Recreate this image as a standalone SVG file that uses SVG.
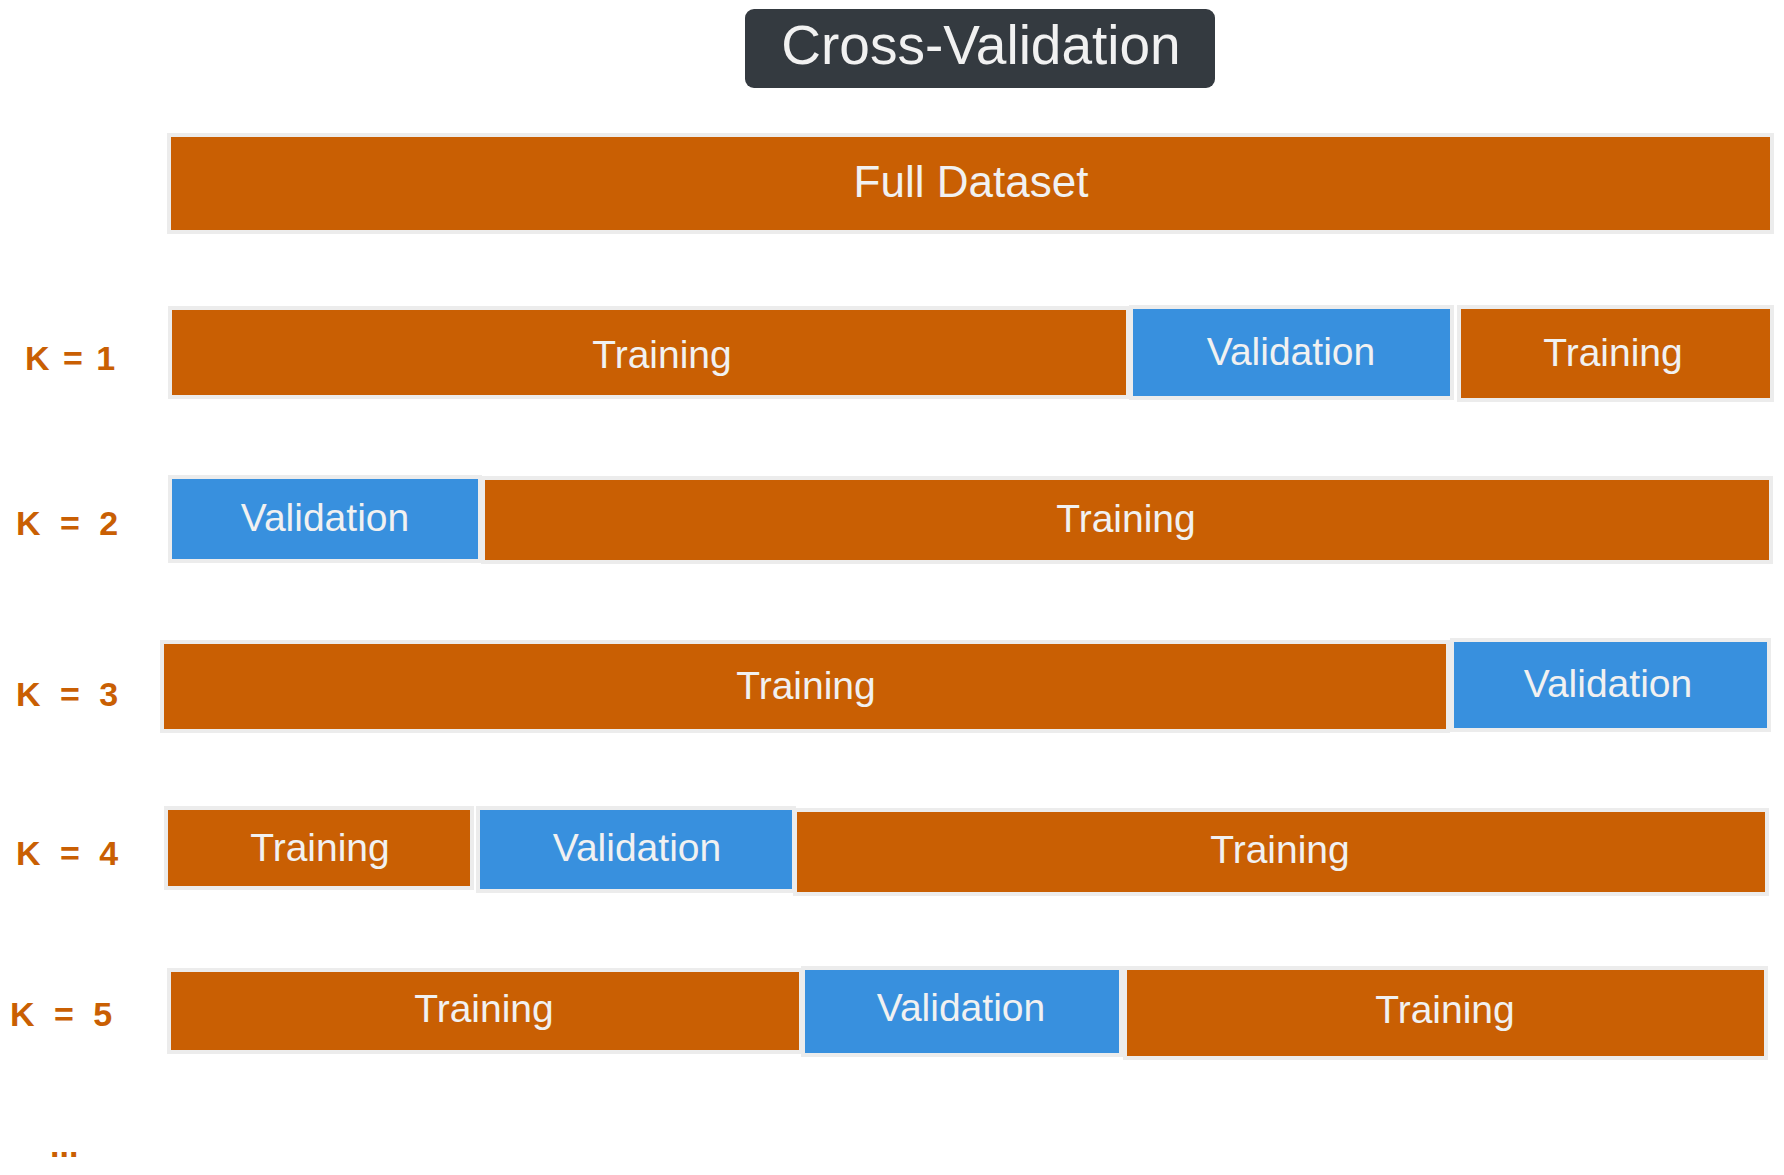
<svg xmlns="http://www.w3.org/2000/svg" width="1784" height="1175" viewBox="0 0 1784 1175">
<style>
.tr{fill:#c95f03;stroke:#ececec;stroke-width:4}
.va{fill:#3890de;stroke:#ececec;stroke-width:4}
.lbl{font-family:"Liberation Sans",Arial,sans-serif;font-size:39px;fill:#f1f1f1;text-anchor:middle;dominant-baseline:central}
.k{font-family:"Liberation Sans",Arial,sans-serif;font-size:34px;font-weight:bold;fill:#c95f03;word-spacing:10px}
</style>
<rect width="1784" height="1175" fill="#ffffff"/>
<g id="title">
<rect x="745" y="9" width="470" height="79" rx="9" fill="#343a40"/>
<text x="981" y="64" font-family="'Liberation Sans',Arial,sans-serif" font-size="55" fill="#f1f1f1" text-anchor="middle">Cross-Validation</text>
</g>
<g id="full">
<rect class="tr" x="169" y="135" width="1603" height="97"/>
<text class="lbl" x="971" y="181" style="font-size:44px">Full Dataset</text>
</g>
<g id="k1">
<text class="k" x="25" y="370" style="word-spacing:4px">K = 1</text>
<g id="k1-t1"><rect class="tr" x="170" y="308" width="958" height="89"/><text class="lbl" x="662" y="354">Training</text></g>
<g id="k1-v"><rect class="va" x="1131" y="307" width="321" height="91"/><text class="lbl" x="1291" y="351">Validation</text></g>
<g id="k1-t2"><rect class="tr" x="1459" y="307" width="313" height="93"/><text class="lbl" x="1613" y="352">Training</text></g>
</g>
<g id="k2">
<text class="k" x="16" y="535">K = 2</text>
<g id="k2-v"><rect class="va" x="170" y="477" width="310" height="84"/><text class="lbl" x="325" y="517">Validation</text></g>
<g id="k2-t"><rect class="tr" x="483" y="478" width="1288" height="84"/><text class="lbl" x="1126" y="518">Training</text></g>
</g>
<g id="k3">
<text class="k" x="16" y="706">K = 3</text>
<g id="k3-t"><rect class="tr" x="162" y="642" width="1286" height="89"/><text class="lbl" x="806" y="685">Training</text></g>
<g id="k3-v"><rect class="va" x="1452" y="640" width="317" height="90"/><text class="lbl" x="1608" y="683">Validation</text></g>
</g>
<g id="k4">
<text class="k" x="16" y="865">K = 4</text>
<g id="k4-t1"><rect class="tr" x="166" y="808" width="306" height="80"/><text class="lbl" x="320" y="847">Training</text></g>
<g id="k4-v"><rect class="va" x="478" y="808" width="316" height="83"/><text class="lbl" x="637" y="847">Validation</text></g>
<g id="k4-t2"><rect class="tr" x="795" y="810" width="972" height="84"/><text class="lbl" x="1280" y="849">Training</text></g>
</g>
<g id="k5">
<text class="k" x="10" y="1026">K = 5</text>
<g id="k5-t1"><rect class="tr" x="169" y="970" width="632" height="82"/><text class="lbl" x="484" y="1008">Training</text></g>
<g id="k5-v"><rect class="va" x="803" y="968" width="318" height="87"/><text class="lbl" x="961" y="1007">Validation</text></g>
<g id="k5-t2"><rect class="tr" x="1125" y="968" width="641" height="90"/><text class="lbl" x="1445" y="1009">Training</text></g>
</g>
<text class="k" x="50" y="1157">...</text>
<g id="connectors"/>
</svg>
